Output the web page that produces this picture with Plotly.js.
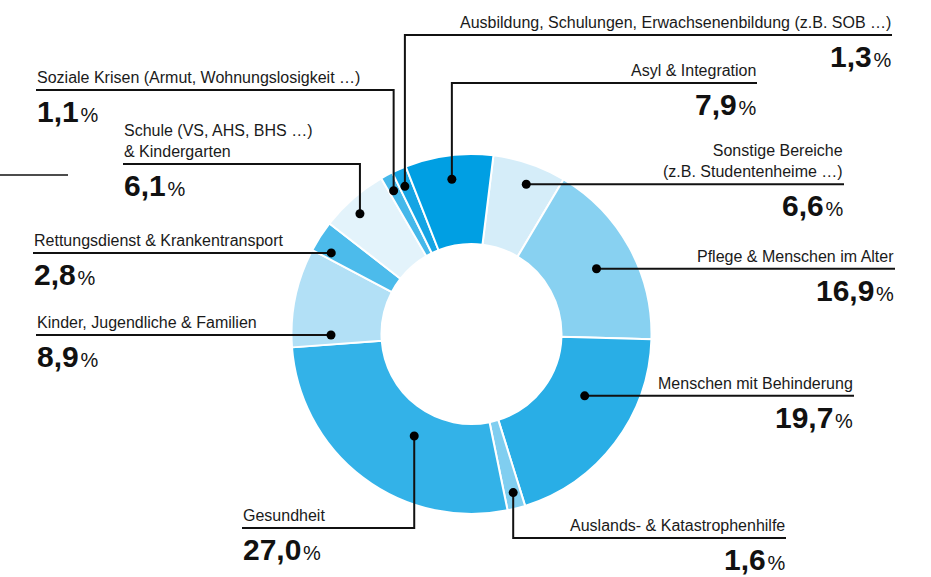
<!DOCTYPE html>
<html><head><meta charset="utf-8">
<script src="https://cdn.plot.ly/plotly-3.0.1.min.js"></script>
<style>html,body{margin:0;padding:0;background:#fff}#chart{width:931px;height:577px}</style>
</head><body><div id="chart"></div>
<script>
// ---- data (clockwise, starting just right of 12 o'clock) ----
const categories = [
  "Sonstige Bereiche (z.B. Studentenheime …)",
  "Pflege & Menschen im Alter",
  "Menschen mit Behinderung",
  "Auslands- & Katastrophenhilfe",
  "Gesundheit",
  "Kinder, Jugendliche & Familien",
  "Rettungsdienst & Krankentransport",
  "Schule (VS, AHS, BHS …) & Kindergarten",
  "Soziale Krisen (Armut, Wohnungslosigkeit …)",
  "Ausbildung, Schulungen, Erwachsenenbildung (z.B. SOB …)",
  "Asyl & Integration"
];
const labelTexts = [
  "Sonstige Bereiche<br>(z.B. Studentenheime …)",
  "Pflege & Menschen im Alter",
  "Menschen mit Behinderung",
  "Auslands- & Katastrophenhilfe",
  "Gesundheit",
  "Kinder, Jugendliche & Familien",
  "Rettungsdienst & Krankentransport",
  "Schule (VS, AHS, BHS …)<br>& Kindergarten",
  "Soziale Krisen (Armut, Wohnungslosigkeit …)",
  "Ausbildung, Schulungen, Erwachsenenbildung (z.B. SOB …)",
  "Asyl & Integration"
];
const values = [6.6, 16.9, 19.7, 1.6, 27.0, 8.9, 2.8, 6.1, 1.1, 1.3, 7.9];
const colors = ["#d5edf9", "#88d1f1", "#29aee6", "#80cef0", "#33b2e8", "#b2e0f6",
                "#4cbbeb", "#e3f3fb", "#45b8ea", "#14a4e4", "#009fe3"];

// ---- layout / styling (pixels) ----
const W = 931, H = 577, CX = 471.5, CY = 334, R = 180, ROT = 7;
// leader style per slice: h = horizontal leader, v = vertical then horizontal
const leaders = [
  {type: "h", end: 844, frac: 0.55, r: 159.5},
  {type: "h", end: 895, frac: 0.52, r: 141},
  {type: "h", end: 854, frac: 0.38, r: 129},
  {type: "v", level: 538, end: 786, frac: 0.45, r: 164},
  {type: "v", level: 528, end: 242, frac: 0.42, r: 117},
  {type: "h", end: 36, frac: 0.12, r: 140.5},
  {type: "h", end: 33, frac: 0.22, r: 162},
  {type: "v", level: 164, end: 123, frac: 0.42, r: 164},
  {type: "v", level: 90, end: 36, frac: 0.4, r: 163},
  {type: "v", level: 35, end: 892, frac: 0.4, r: 162},
  {type: "v", level: 83, end: 757, frac: 0.5, r: 156}
];
const FONT = "Liberation Sans, Arial, sans-serif";
const DOT = 4.5;

// ---- compute dot positions from the data ----
const total = values.reduce((a, b) => a + b, 0);
let acc = ROT;
const dots = values.map((v, i) => {
  const span = v / total * 360;
  const th = (acc + span * leaders[i].frac) * Math.PI / 180;
  acc += span;
  return [CX + leaders[i].r * Math.sin(th), CY - leaders[i].r * Math.cos(th)];
});

const shapes = [], annotations = [];
values.forEach((v, i) => {
  const L = leaders[i];
  const [dx, dy] = dots[i];
  let lineY, path;
  if (L.type === "h") {
    lineY = dy;
    path = `M${dx},${dy} L${L.end},${dy}`;
  } else {
    lineY = L.level;
    path = `M${dx},${dy} L${dx},${L.level} L${L.end},${L.level}`;
  }
  shapes.push({type: "path", xref: "x", yref: "y", path: path, layer: "above",
               line: {color: "#111", width: 2}});
  shapes.push({type: "circle", xref: "x", yref: "y", layer: "above",
               x0: dx - DOT, x1: dx + DOT, y0: dy - DOT, y1: dy + DOT,
               fillcolor: "#000", line: {width: 0}});
  const left = L.end < CX;
  const anchor = left ? "left" : "right";
  annotations.push({
    xref: "x", yref: "y", x: L.end, y: lineY - 3, xanchor: anchor, yanchor: "bottom",
    align: anchor, text: labelTexts[i], showarrow: false, borderpad: 0,
    font: {family: FONT, size: 16, color: "#1a1a1a"}
  });
  const num = v.toFixed(1).replace(".", ",");
  annotations.push({
    xref: "x", yref: "y", x: L.end, y: lineY + 4, xanchor: anchor, yanchor: "top",
    align: anchor, showarrow: false, borderpad: 0,
    text: "<b>" + num + "</b><span style=\"font-size:20px\">\u200a%</span>",
    font: {family: FONT, size: 30, color: "#111"}
  });
});
shapes.push({type: "line", xref: "x", yref: "y", x0: 0, x1: 68, y0: 175, y1: 175,
             line: {color: "#111", width: 1.5}});

const traces = [
  {
    type: "pie", labels: categories, values: values, sort: false,
    direction: "clockwise", rotation: ROT, hole: 0.5,
    marker: {colors: colors, line: {color: "#ffffff", width: 2}},
    textinfo: "none", showlegend: false, hoverinfo: "label+percent",
    domain: {x: [(CX - R) / W, (CX + R) / W], y: [(H - CY - R) / H, (H - CY + R) / H]}
  },
  {
    type: "scatter", mode: "markers", x: [0, W], y: [0, H],
    marker: {opacity: 0}, hoverinfo: "skip", showlegend: false
  }
];

const layout = {
  width: W, height: H, margin: {l: 0, r: 0, t: 0, b: 0},
  paper_bgcolor: "#fff", plot_bgcolor: "rgba(0,0,0,0)",
  xaxis: {range: [0, W], visible: false, fixedrange: true},
  yaxis: {range: [H, 0], visible: false, fixedrange: true},
  annotations: annotations,
  shapes: shapes,
  font: {family: FONT}
};

Plotly.newPlot("chart", traces, layout, {displayModeBar: false, staticPlot: true});
</script></body></html>
